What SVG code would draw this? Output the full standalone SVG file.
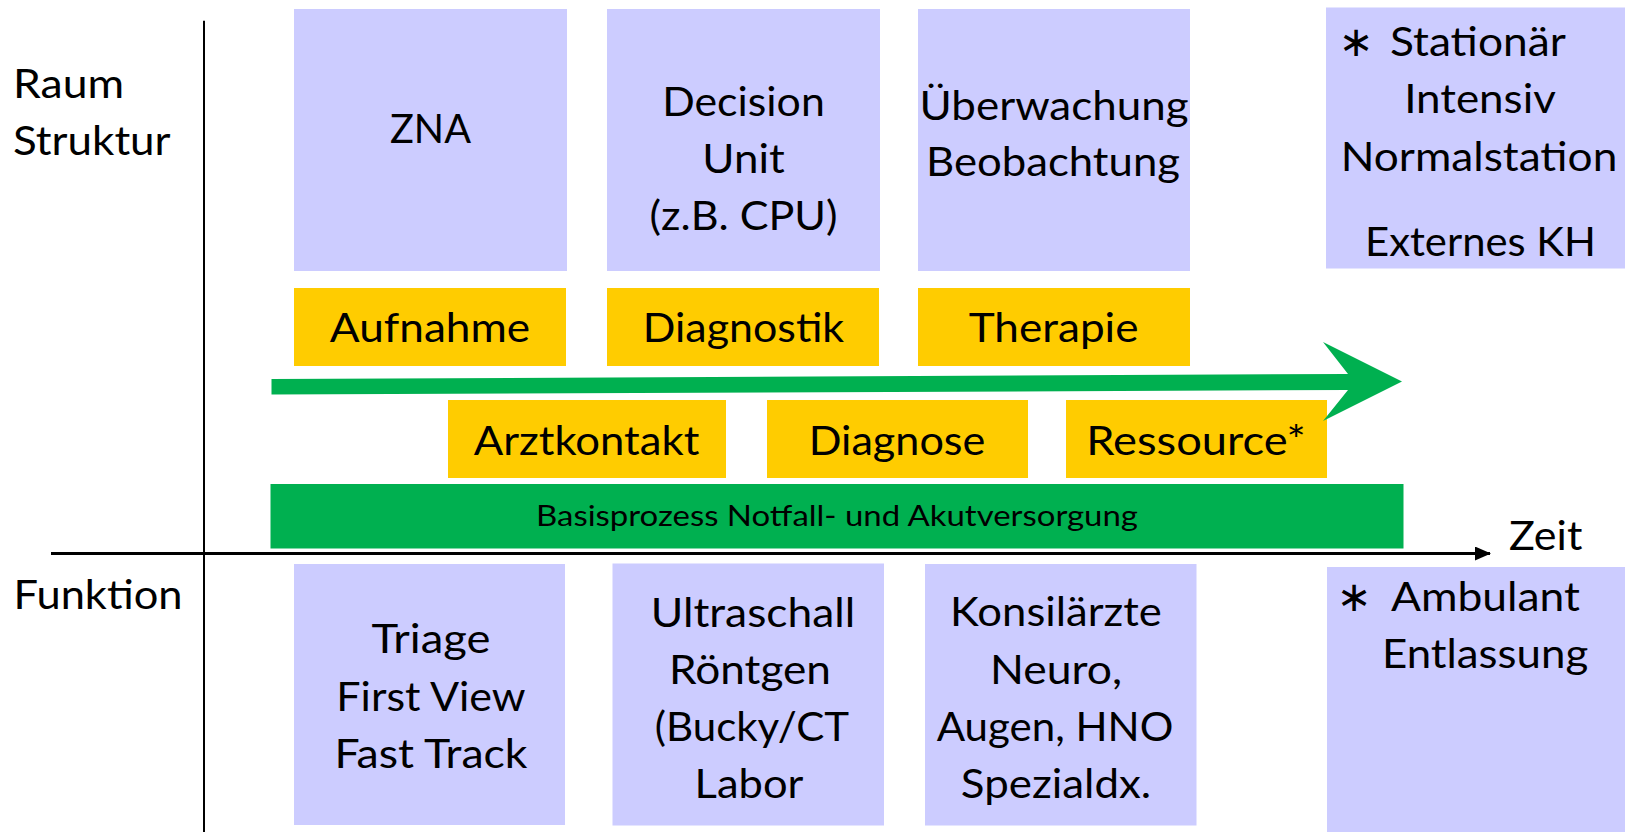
<svg xmlns="http://www.w3.org/2000/svg" width="1625" height="832" viewBox="0 0 1625 832">
<defs>
<style>
.bg{fill:#FFFFFF}
.lav{fill:#CCCCFF}
.gold{fill:#FFCC00}
.grn{fill:#00B050}
.t{font-family:Lato,"Open Sans","Liberation Sans",sans-serif;font-size:41px;fill:#000000}
.c{text-anchor:middle}
.s{font-family:Lato,"Open Sans","Liberation Sans",sans-serif;font-size:28px;fill:#000000;text-anchor:middle}
.star{font-family:"DejaVu Sans",sans-serif;font-size:42px;fill:#000000;text-anchor:middle}
.axis{stroke:#000000;fill:none}
</style>
<marker id="axhead" markerWidth="16" markerHeight="14" refX="15" refY="7" orient="auto" markerUnits="userSpaceOnUse">
<path d="M0,0 L16,7 L0,14 Z" fill="#000000"/>
</marker>
</defs>
<rect class="bg" x="0" y="0" width="1625" height="832"/>

<g id="labels">
<text class="t" x="13" y="98.3" textLength="111" lengthAdjust="spacingAndGlyphs">Raum</text>
<text class="t" x="13" y="155" textLength="157.6" lengthAdjust="spacingAndGlyphs">Struktur</text>
<text class="t" x="13.5" y="609" textLength="169" lengthAdjust="spacingAndGlyphs">Funktion</text>
<text class="t" x="1509" y="550" textLength="73.3" lengthAdjust="spacingAndGlyphs">Zeit</text>
</g>

<g id="axes">
<line class="axis" x1="204" y1="20.7" x2="204" y2="832" stroke-width="2"/>
<line class="axis" x1="51" y1="553.5" x2="1490" y2="553.5" stroke-width="3" marker-end="url(#axhead)"/>
</g>

<g id="zna">
<rect class="lav" x="294" y="9" width="273" height="262"/>
<text class="t c" x="430.5" y="142.7" textLength="81" lengthAdjust="spacingAndGlyphs">ZNA</text>
</g>
<g id="decision-unit">
<rect class="lav" x="607" y="9" width="273" height="262"/>
<text class="t c" x="743.5" y="115.7" textLength="162.6" lengthAdjust="spacingAndGlyphs">Decision</text>
<text class="t c" x="743.5" y="172.7" textLength="82.4" lengthAdjust="spacingAndGlyphs">Unit</text>
<text class="t c" x="743.5" y="230" textLength="188" lengthAdjust="spacingAndGlyphs">(z.B. CPU)</text>
</g>
<g id="ueberwachung">
<rect class="lav" x="918" y="9" width="272" height="262"/>
<text class="t c" x="1054" y="120" textLength="269" lengthAdjust="spacingAndGlyphs">Überwachung</text>
<text class="t c" x="1053" y="176" textLength="254" lengthAdjust="spacingAndGlyphs">Beobachtung</text>
</g>
<g id="stationaer">
<rect class="lav" x="1326" y="7.5" width="299" height="261"/>
<text class="star" x="1356" y="56">∗</text>
<text class="t" x="1390" y="56" textLength="175.8" lengthAdjust="spacingAndGlyphs">Stationär</text>
<text class="t c" x="1480" y="112.5" textLength="151.7" lengthAdjust="spacingAndGlyphs">Intensiv</text>
<text class="t c" x="1479" y="170.7" textLength="276.7" lengthAdjust="spacingAndGlyphs">Normalstation</text>
<text class="t c" x="1480.5" y="256.4" textLength="231" lengthAdjust="spacingAndGlyphs">Externes KH</text>
</g>

<g id="aufnahme">
<rect class="gold" x="294" y="288" width="272" height="78"/>
<text class="t c" x="430" y="342.3" textLength="200.4" lengthAdjust="spacingAndGlyphs">Aufnahme</text>
</g>
<g id="diagnostik">
<rect class="gold" x="607" y="288" width="272" height="78"/>
<text class="t c" x="743.5" y="341.7" textLength="201.3" lengthAdjust="spacingAndGlyphs">Diagnostik</text>
</g>
<g id="therapie">
<rect class="gold" x="918" y="288" width="272" height="78"/>
<text class="t c" x="1053.6" y="342" textLength="169.8" lengthAdjust="spacingAndGlyphs">Therapie</text>
</g>

<g id="arztkontakt">
<rect class="gold" x="448" y="400" width="278" height="78"/>
<text class="t c" x="586.5" y="455" textLength="225.6" lengthAdjust="spacingAndGlyphs">Arztkontakt</text>
</g>
<g id="diagnose">
<rect class="gold" x="767" y="400" width="261" height="78"/>
<text class="t c" x="897" y="455" textLength="176.7" lengthAdjust="spacingAndGlyphs">Diagnose</text>
</g>
<g id="ressource">
<rect class="gold" x="1066" y="400" width="261" height="78"/>
<text class="t c" x="1196" y="455" textLength="219.7" lengthAdjust="spacingAndGlyphs">Ressource*</text>
</g>

<g id="basisprozess">
<rect class="grn" x="270.5" y="484" width="1133" height="64.5"/>
<text class="s" x="837" y="526" textLength="602" lengthAdjust="spacingAndGlyphs">Basisprozess Notfall- und Akutversorgung</text>
</g>

<g id="triage">
<rect class="lav" x="294" y="564" width="271" height="261"/>
<text class="t c" x="431" y="653" textLength="118.9" lengthAdjust="spacingAndGlyphs">Triage</text>
<text class="t c" x="431" y="711" textLength="189.3" lengthAdjust="spacingAndGlyphs">First View</text>
<text class="t c" x="431" y="768" textLength="193.1" lengthAdjust="spacingAndGlyphs">Fast Track</text>
</g>
<g id="ultraschall">
<rect class="lav" x="612.5" y="563.5" width="271.5" height="262"/>
<text class="t c" x="753" y="627" textLength="204.4" lengthAdjust="spacingAndGlyphs">Ultraschall</text>
<text class="t c" x="750" y="684" textLength="162" lengthAdjust="spacingAndGlyphs">Röntgen</text>
<text class="t c" x="752" y="741" textLength="194.4" lengthAdjust="spacingAndGlyphs">(Bucky/CT</text>
<text class="t c" x="749" y="798" textLength="108.8" lengthAdjust="spacingAndGlyphs">Labor</text>
</g>
<g id="konsilaerzte">
<rect class="lav" x="925" y="564" width="271.5" height="261.5"/>
<text class="t c" x="1056" y="626" textLength="211.8" lengthAdjust="spacingAndGlyphs">Konsilärzte</text>
<text class="t c" x="1056" y="684" textLength="132.2" lengthAdjust="spacingAndGlyphs">Neuro,</text>
<text class="t c" x="1055" y="741" textLength="236.7" lengthAdjust="spacingAndGlyphs">Augen, HNO</text>
<text class="t c" x="1056" y="798" textLength="190.3" lengthAdjust="spacingAndGlyphs">Spezialdx.</text>
</g>
<g id="ambulant">
<rect class="lav" x="1327" y="567" width="298" height="265"/>
<text class="star" x="1354" y="610.7">∗</text>
<text class="t" x="1391" y="610.7" textLength="189" lengthAdjust="spacingAndGlyphs">Ambulant</text>
<text class="t" x="1382" y="668.3" textLength="206.2" lengthAdjust="spacingAndGlyphs">Entlassung</text>
</g>

<g id="connectors">
<polygon class="grn" points="271.5,379 1348,374 1323,342 1402,381.5 1323,421 1348,390 271.5,394.5"/>
</g>
</svg>
